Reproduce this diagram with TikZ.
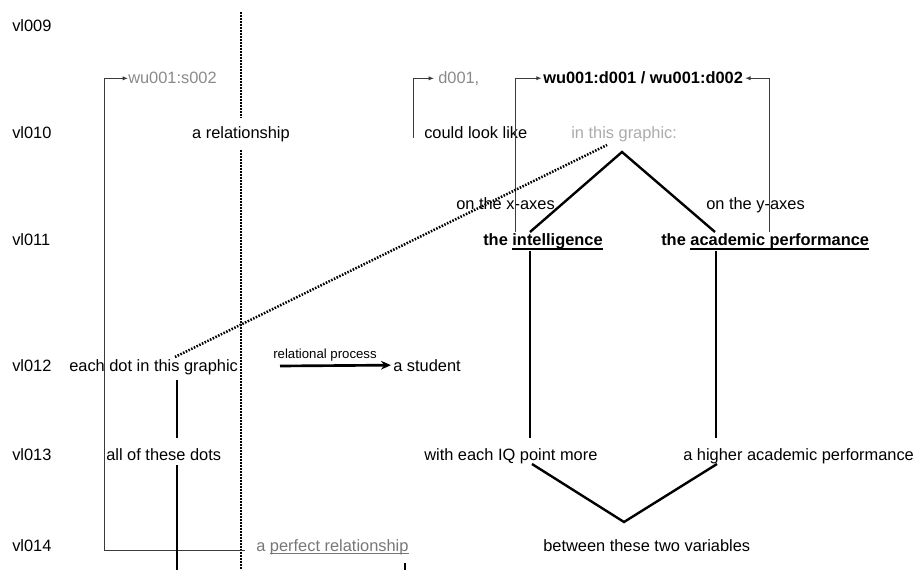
\documentclass[tikz,border=0pt]{standalone}
\usepackage{fontspec}
\setmainfont{Liberation Sans}
\usetikzlibrary{arrows.meta}
\definecolor{midgray}{HTML}{8A8A8A}
\definecolor{lightgray}{HTML}{ABABAB}
\definecolor{relgray}{HTML}{777777}
\definecolor{linkgray}{HTML}{3A3A3A}
% underline with a chosen rule thickness
\newcommand\rulebelow[3]{\setbox0\hbox{#3}\rlap{\vrule height -#1 depth #2 width \wd0}\box0}
\newcommand\boldul[1]{\rulebelow{1.2pt}{2.7pt}{#1}}
\newcommand\thinul[1]{\rulebelow{1.5pt}{2.3pt}{#1}}
\begin{document}
\begin{tikzpicture}[x=0.75pt,y=-0.75pt,
  txt/.style={font=\fontsize{12.3}{14}\selectfont, inner sep=0pt, anchor=base west},
  bold/.style={txt, font=\fontsize{12.3}{14}\selectfont\bfseries},
  smalltxt/.style={font=\fontsize{9.9}{11}\selectfont, inner sep=0pt, anchor=base west},
  link/.style={draw=linkgray, line width=0.75pt, -{Latex[length=4pt,width=3.2pt]}},
  heavy/.style={line width=1.8pt},
  dots/.style={line width=1.9pt, dash pattern=on 1.15pt off 1.1pt},
]
\useasboundingbox (0,0) rectangle (917,570);

% line labels
\node[txt] (l09) at (12,32) {vl009};
\node[txt] (l10) at (12,139) {vl010};
\node[txt] (l11) at (12,246) {vl011};
\node[txt] (l12) at (12,371) {vl012};
\node[txt] (l13) at (12,460) {vl013};
\node[txt] (l14) at (12,551) {vl014};

% clause elements
\node[txt, text=midgray] (ws) at (128,84) {wu001:s002};
\node[txt, anchor=base] (rel) at (241,139) {a relationship};
\node[txt, text=midgray] (d1) at (438,84) {d001,};
\node[txt] (look) at (424,139) {could look like};
\node[bold] (wd) at (543,84) {wu001:d001 / wu001:d002};
\node[txt, text=lightgray] (graphic) at (571,139) {in this graphic:};
\node[txt] (xax) at (456,210) {on the x-axes};
\node[txt] (yax) at (706,210) {on the y-axes};
\node[bold] (intel) at (483,246) {the \boldul{intelligence}};
\node[bold] (acad) at (661,246) {the \boldul{academic performance}};
\node[txt] (dot) at (69,371) {each dot in this graphic};
\node[smalltxt] (proc) at (273,358) {relational process};
\node[txt] (stud) at (393,371) {a student};
\node[txt] (alldots) at (106,460) {all of these dots};
\node[txt] (iq) at (424,460) {with each IQ point more};
\node[txt] (higher) at (683,460) {a higher academic performance};
\node[txt, text=relgray] (perfect) at (256,551) {a \thinul{perfect relationship}};
\node[txt] (between) at (543,551) {between these two variables};

% anchor points of the connectors
\coordinate (vtop) at (241,12);
\coordinate (vmidA) at (241,118);
\coordinate (vmidB) at (241,150);
\coordinate (vbot) at (241,570);
\coordinate (sfoot) at (245,550);
\coordinate (scorner) at (104,550);
\coordinate (dfoot) at (413,138);
\coordinate (xfoot) at (515,232);
\coordinate (yfoot) at (769,232);
\coordinate (apex) at (622,152);
\coordinate (ltop) at (530,232);
\coordinate (rtop) at (715,232);
\coordinate (lA) at (530,251);
\coordinate (lB) at (530,438);
\coordinate (rA) at (716,251);
\coordinate (rB) at (716,438);
\coordinate (lC) at (532,464);
\coordinate (vee) at (624,522);
\coordinate (rC) at (717,464);
\coordinate (dotA) at (177,380);
\coordinate (dotB) at (177,438);
\coordinate (allA) at (177,465);
\coordinate (allB) at (177,570);
\coordinate (perA) at (405,563);
\coordinate (perB) at (405,570);
\coordinate (dotstart) at (175,357);
\coordinate (graphend) at (607,145);
\coordinate (arrA) at (280,366);

% dotted separator
\draw[dots] (vtop) -- (vmidA);
\draw[dots] (vmidB) -- (vbot);

% thin reference links
\draw[link] (sfoot) -- (scorner) |- (ws.west);
\draw[link] (dfoot) |- ([xshift=-3pt]d1.west |- ws.west);
\draw[link] (xfoot) |- ([xshift=-1pt]wd.west);
\draw[link] (yfoot) |- ([xshift=1.5pt]wd.east);

% dotted link between the two graphics
\draw[dots] (dotstart) -- (graphend);

% structure lines
\draw[heavy] (ltop) -- (apex) -- (rtop);
\draw[heavy] (lA) -- (lB);
\draw[heavy] (rA) -- (rB);
\draw[heavy] (lC) -- (vee) -- (rC);
\draw[heavy] (dotA) -- (dotB);
\draw[heavy] (allA) -- (allB);
\draw[heavy] (perA) -- (perB);

% relational process arrow
\draw[line width=2pt, -{Stealth[length=7.5pt,width=6.5pt]}] (arrA) -- ([xshift=-1.5pt]stud.west);
\end{tikzpicture}
\end{document}
